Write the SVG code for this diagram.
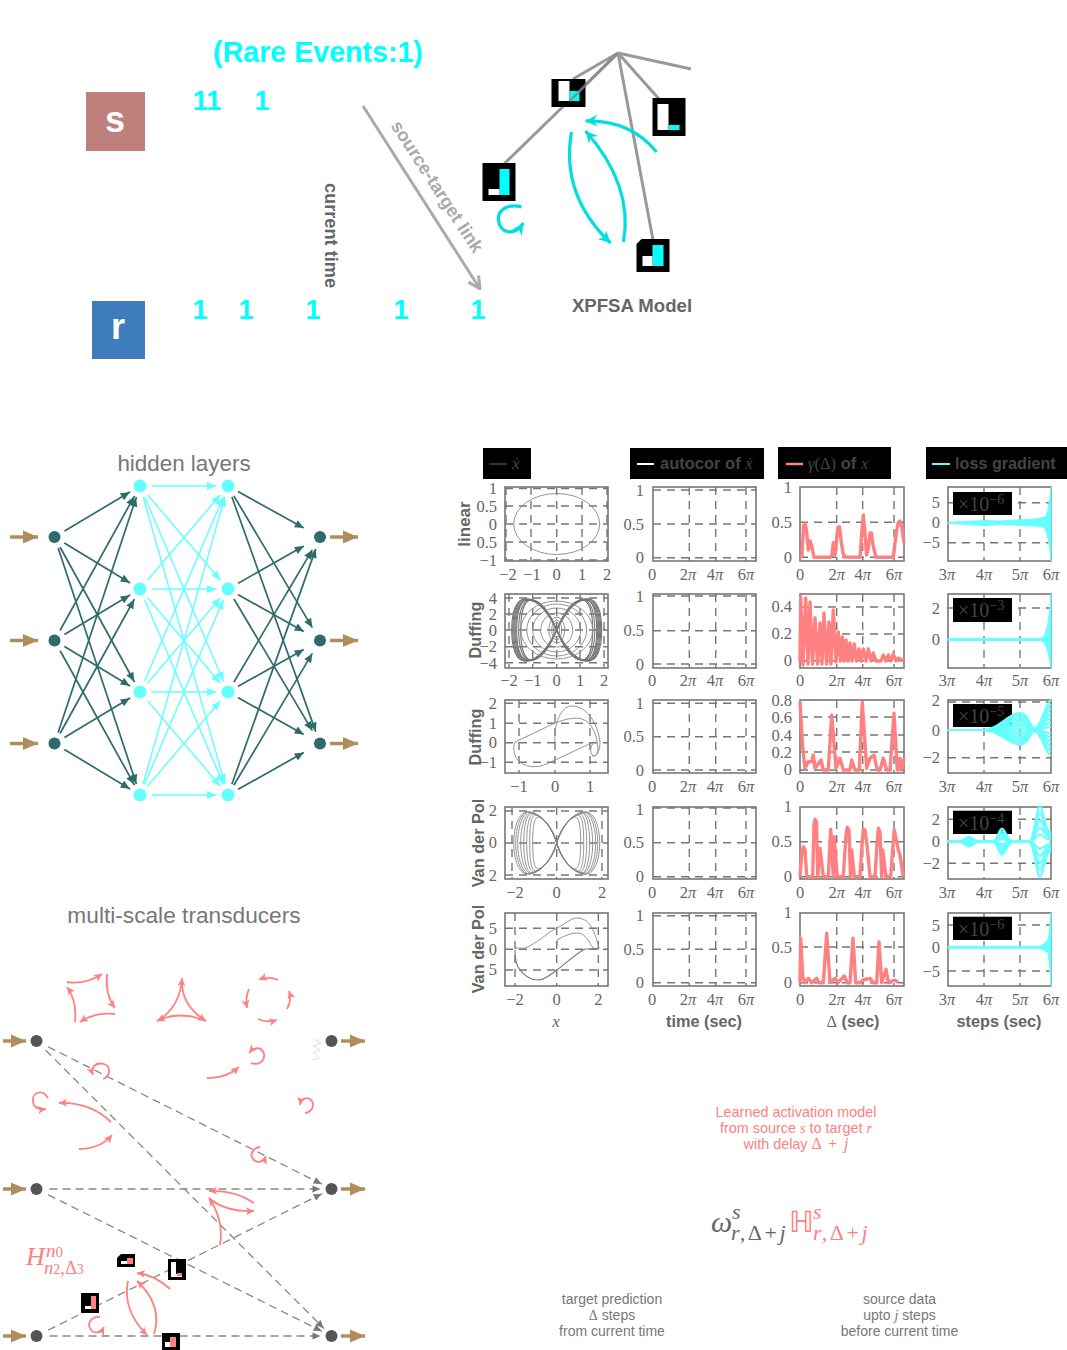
<svg xmlns="http://www.w3.org/2000/svg" width="1067" height="1350" viewBox="0 0 1067 1350">
<style>
text{font-family:"Liberation Sans",Arial,sans-serif}
.b{font-weight:bold}
.c1{fill:#00ffff;font-weight:bold;font-size:27px;text-anchor:middle}
.m{text-anchor:middle}
.gt{fill:#777}
.pt{fill:#ff8080}
.lab{fill:#666;font-weight:bold;font-size:16.3px;text-anchor:middle}
.i{font-family:"Liberation Serif",serif;font-style:italic;font-weight:normal}
.t text,.t{font-family:"Liberation Serif",serif;font-size:16.5px;fill:#666}
.tx text{text-anchor:middle}
.ty text{text-anchor:end}
.frame{fill:none;stroke:#777;stroke-width:1.6}
.grid{fill:none;stroke:#777;stroke-width:1.4;stroke-dasharray:8 6}
.tr{fill:none;stroke:#888;stroke-width:.9;vector-effect:non-scaling-stroke}
.tk{fill:none;stroke:#777;stroke-width:1.1;vector-effect:non-scaling-stroke}
.rc{fill:none;stroke:#ff8080;stroke-width:3.4;stroke-linejoin:round}
.cy{fill:#66ffff;stroke:#66ffff;stroke-width:1}
.cl{fill:none;stroke:#66ffff;stroke-width:2.2;vector-effect:non-scaling-stroke}
.bk{fill:#000}
.wt{fill:#fff}
.cn{fill:#00ffff}
.pk{fill:#ff8080}
.mgl{fill:#444;font-family:"Liberation Serif",serif;font-size:20px}
.dk line{stroke:#2f6b6b;stroke-width:1.7;marker-end:url(#ad)}
.dr line{stroke:#2f6b6b;stroke-width:1.7;marker-end:url(#ad0)}
.lc line{stroke:#66ffff;stroke-width:1.5;marker-end:url(#ac)}
.br{stroke:#b08d5a;stroke-width:3.5;marker-end:url(#ab)}
.ds line{stroke:#888;stroke-width:1.3;stroke-dasharray:8 5;marker-end:url(#ag)}
.halo{fill:#fff}
.rr{fill:none;stroke:#ff8080;stroke-width:1.8;marker-end:url(#ar)}
.ca{fill:none;stroke:#00dede;stroke-width:3.2;marker-end:url(#acy)}
.ml{stroke:#999;stroke-width:3;fill:none}
</style>
<defs>
<marker id="ad" markerUnits="userSpaceOnUse" viewBox="-10 -6 30 12" markerWidth="30" markerHeight="12" refX="12" refY="0" orient="auto"><path d="M-9,-4L0,0L-9,4Z" fill="#2f6b6b"/></marker>
<marker id="ad0" markerUnits="userSpaceOnUse" viewBox="-10 -6 11 12" markerWidth="11" markerHeight="12" refX="0" refY="0" orient="auto"><path d="M-9,-4L0,0L-9,4Z" fill="#2f6b6b"/></marker>
<marker id="ac" markerUnits="userSpaceOnUse" viewBox="-10 -6 30 12" markerWidth="30" markerHeight="12" refX="12" refY="0" orient="auto"><path d="M-9,-4L0,0L-9,4Z" fill="#66ffff"/></marker>
<marker id="ag" markerUnits="userSpaceOnUse" viewBox="-10 -6 30 12" markerWidth="30" markerHeight="12" refX="11" refY="0" orient="auto"><path d="M-8,-3.5L0,0L-8,3.5Z" fill="#777"/></marker>
<marker id="ab" markerUnits="userSpaceOnUse" viewBox="-16 -7 17 14" markerWidth="17" markerHeight="14" refX="0" refY="0" orient="auto"><path d="M-15,-6.5L0,0L-15,6.5Z" fill="#b08d5a"/></marker>
<marker id="ar" markerUnits="userSpaceOnUse" viewBox="-10 -6 11 12" markerWidth="11" markerHeight="12" refX="0" refY="0" orient="auto"><path d="M-8,-4L0,0L-8,4L-6,0Z" fill="#ff8080"/></marker>
<marker id="acy" markerUnits="userSpaceOnUse" viewBox="-14 -7 15 14" markerWidth="15" markerHeight="14" refX="0" refY="0" orient="auto"><path d="M-12,-6L0,0L-12,6L-8,0Z" fill="#00dede"/></marker>
<marker id="agl" markerUnits="userSpaceOnUse" viewBox="-14 -8 15 16" markerWidth="15" markerHeight="16" refX="0" refY="0" orient="auto"><path d="M-12,-6L0,0L-12,6" fill="none" stroke="#aaa" stroke-width="3"/></marker>
<path id="eight" class="tk" d="M0,0C.25,-.75 .5,-1 .7,-1C.9,-1 1,-.6 1,0C1,.6 .9,1 .7,1C.5,1 .25,.75 0,0C-.25,-.75 -.5,-1 -.7,-1C-.9,-1 -1,-.6 -1,0C-1,.6 -.9,1 -.7,1C-.5,1 -.25,.75 0,0Z"/>
<g id="vdp" class="tr">
<path d="M0,0C5,-15 12,-24 18,-26C23,-26 24,-14 24,0C24,14 23,26 18,26C12,24 5,15 0,0Z"/>
<path d="M0,0C5,-16 14,-26 21,-28C26,-28 27,-15 27,0C27,15 26,28 21,28C14,26 5,16 0,0Z"/>
<path d="M0,0C5,-17 15,-27 23,-29C28,-29 30,-15 30,0C30,15 28,29 23,29C15,27 5,17 0,0Z"/>
<path d="M0,0C5,-18 16,-28 25,-30C30,-30 33,-16 33,0C33,16 30,30 25,30C16,28 5,18 0,0Z"/>
<path d="M0,0C5,-18 17,-29 26,-30C32,-30 36,-16 36,0C36,16 32,30 26,30C17,29 5,18 0,0Z"/>
<path d="M0,0C5,-19 18,-30 27,-31C34,-31 39,-16 39,0C39,16 34,31 27,31C18,30 5,19 0,0Z"/>
<path d="M0,0C5,-19 18,-30 28,-31C36,-31 41,-16 41,0C41,16 36,31 28,31C18,30 5,19 0,0Z"/>
<path d="M0,0C5,-19 18,-31 29,-31C38,-31 43,-16 43,0C43,16 38,31 29,31C18,31 5,19 0,0Z"/>
</g>
<path id="w3" class="cl" d="M947.7,0L985,0C1000,-1 1008,-17 1020,-17C1030,-17 1030,2 1036,-2C1042,-6 1046,-28 1051,-30"/>
<path id="w4" class="cl" d="M947.7,0L958,0C964,0 966,-5 969,-5C972,-5 974,0 980,0L993,0C997,0 999,-13 1002,-13C1005,-13 1008,0 1012,0L1030,0C1034,-3 1037,-36 1040,-36C1043,-36 1045,-8 1051,-10"/>
</defs>

<g id="title"><text x="318" y="62" class="b m" font-size="28.6" fill="#00ffff">(Rare Events:1)</text></g>
<g id="node-s"><rect x="86" y="92" width="59" height="59" fill="#be7f7d"/><text x="115" y="132" class="b m" font-size="36" fill="#fff">s</text></g>
<g id="node-r"><rect x="92" y="301" width="53" height="58" fill="#3f7dbd"/><text x="118" y="339" class="b m" font-size="36" fill="#fff">r</text></g>
<g id="spikes">
<text x="207" y="110" class="c1">11</text><text x="262" y="110" class="c1">1</text>
<text x="200" y="319" class="c1">1</text><text x="246" y="319" class="c1">1</text><text x="313" y="319" class="c1">1</text><text x="401" y="319" class="c1">1</text><text x="478" y="319" class="c1">1</text>
</g>
<text transform="translate(325,235.5) rotate(90)" class="b m" font-size="18.2" fill="#666">current time</text>
<path id="source-target-arrow" d="M363,106L480,289" fill="none" stroke="#aaa" stroke-width="3" marker-end="url(#agl)"/>
<text transform="translate(432,190) rotate(57)" class="b m" font-size="18.3" fill="#aaa">source-target link</text>

<g id="xpfsa-lines">
<path class="ml" d="M618,53L691,69M618,53L573,79M618,53L504,164M618,53L659,99M618,53L653,240"/>
</g>
<g transform="translate(-1.5,0)">
<g id="xpfsa-1"><rect class="bk" x="553" y="79" width="34" height="28"/><rect class="wt" x="560" y="81" width="11" height="20"/><rect class="cn" x="571" y="91" width="10" height="10"/><path d="M619.5,53L571,101" stroke="#888" stroke-width="3" opacity=".75"/></g>
<g id="xpfsa-2"><rect class="bk" x="654" y="98" width="33" height="38"/><rect class="wt" x="659" y="104" width="11" height="26"/><rect class="cn" x="670" y="125" width="11" height="5"/></g>
<g id="xpfsa-3"><rect class="bk" x="484" y="163" width="33" height="38"/><rect class="cn" x="501" y="169" width="10" height="26"/><rect class="wt" x="490" y="189" width="11" height="6"/></g>
<g id="xpfsa-4"><path class="bk" d="M643,239H671V272H638V244Z"/><rect class="cn" x="654" y="245" width="11" height="21"/><rect class="wt" x="644" y="256" width="10" height="10"/></g>
<g id="xpfsa-arrows">
<path class="ca" d="M658,152Q632,120 587,121"/>
<path class="ca" d="M573,132Q562,195 612,243"/>
<path class="ca" d="M625,242Q635,185 587,131"/>
<path class="ca" d="M523,207C510,203 499,210 500,220C501,232 515,238 525,223"/>
</g>
</g>
<text x="632" y="312" class="b m" font-size="18.6" fill="#666">XPFSA Model</text>

<text x="184" y="471" class="m gt" font-size="22.4">hidden layers</text>
<g id="nn-connectors">
<g class="dk">
<line x1="54.5" y1="537" x2="140" y2="486"/><line x1="54.5" y1="537" x2="140" y2="589"/><line x1="54.5" y1="537" x2="140" y2="692"/><line x1="54.5" y1="537" x2="140" y2="795"/>
<line x1="54.5" y1="640.5" x2="140" y2="486"/><line x1="54.5" y1="640.5" x2="140" y2="589"/><line x1="54.5" y1="640.5" x2="140" y2="692"/><line x1="54.5" y1="640.5" x2="140" y2="795"/>
<line x1="54.5" y1="743.5" x2="140" y2="486"/><line x1="54.5" y1="743.5" x2="140" y2="589"/><line x1="54.5" y1="743.5" x2="140" y2="692"/><line x1="54.5" y1="743.5" x2="140" y2="795"/>
</g>
<g class="dr">
<line x1="228" y1="486" x2="303.8" y2="528"/><line x1="228" y1="486" x2="312.3" y2="627.6"/><line x1="228" y1="486" x2="315.8" y2="731.6"/>
<line x1="228" y1="589" x2="303.8" y2="546"/><line x1="228" y1="589" x2="303.8" y2="631.5"/><line x1="228" y1="589" x2="312.3" y2="730.6"/>
<line x1="228" y1="692" x2="312.3" y2="549.9"/><line x1="228" y1="692" x2="303.8" y2="649.5"/><line x1="228" y1="692" x2="303.8" y2="734.5"/>
<line x1="228" y1="795" x2="315.8" y2="548.9"/><line x1="228" y1="795" x2="312.3" y2="653.4"/><line x1="228" y1="795" x2="303.8" y2="752.5"/>
</g>
<g class="lc">
<line x1="140" y1="486" x2="228" y2="486"/><line x1="140" y1="486" x2="228" y2="589"/><line x1="140" y1="486" x2="228" y2="692"/><line x1="140" y1="486" x2="228" y2="795"/>
<line x1="140" y1="589" x2="228" y2="486"/><line x1="140" y1="589" x2="228" y2="589"/><line x1="140" y1="589" x2="228" y2="692"/><line x1="140" y1="589" x2="228" y2="795"/>
<line x1="140" y1="692" x2="228" y2="486"/><line x1="140" y1="692" x2="228" y2="589"/><line x1="140" y1="692" x2="228" y2="692"/><line x1="140" y1="692" x2="228" y2="795"/>
<line x1="140" y1="795" x2="228" y2="486"/><line x1="140" y1="795" x2="228" y2="589"/><line x1="140" y1="795" x2="228" y2="692"/><line x1="140" y1="795" x2="228" y2="795"/>
</g>
</g>
<g id="nn-nodes">
<g id="in1"><circle class="halo" cx="54.5" cy="537" r="11.5"/><circle cx="54.5" cy="537" r="6" fill="#2f6b6b"/></g>
<g id="in2"><circle class="halo" cx="54.5" cy="640.5" r="11.5"/><circle cx="54.5" cy="640.5" r="6" fill="#2f6b6b"/></g>
<g id="in3"><circle class="halo" cx="54.5" cy="743.5" r="11.5"/><circle cx="54.5" cy="743.5" r="6" fill="#2f6b6b"/></g>
<g id="h11"><circle class="halo" cx="140" cy="486" r="11.5"/><circle cx="140" cy="486" r="6.5" fill="#66ffff"/></g>
<g id="h12"><circle class="halo" cx="140" cy="589" r="11.5"/><circle cx="140" cy="589" r="6.5" fill="#66ffff"/></g>
<g id="h13"><circle class="halo" cx="140" cy="692" r="11.5"/><circle cx="140" cy="692" r="6.5" fill="#66ffff"/></g>
<g id="h14"><circle class="halo" cx="140" cy="795" r="11.5"/><circle cx="140" cy="795" r="6.5" fill="#66ffff"/></g>
<g id="h21"><circle class="halo" cx="228" cy="486" r="11.5"/><circle cx="228" cy="486" r="6.5" fill="#66ffff"/></g>
<g id="h22"><circle class="halo" cx="228" cy="589" r="11.5"/><circle cx="228" cy="589" r="6.5" fill="#66ffff"/></g>
<g id="h23"><circle class="halo" cx="228" cy="692" r="11.5"/><circle cx="228" cy="692" r="6.5" fill="#66ffff"/></g>
<g id="h24"><circle class="halo" cx="228" cy="795" r="11.5"/><circle cx="228" cy="795" r="6.5" fill="#66ffff"/></g>
<g id="out1"><circle cx="320" cy="537" r="6" fill="#2f6b6b"/></g>
<g id="out2"><circle cx="320" cy="640.5" r="6" fill="#2f6b6b"/></g>
<g id="out3"><circle cx="320" cy="743.5" r="6" fill="#2f6b6b"/></g>
</g>
<g id="nn-io">
<line class="br" x1="10" y1="537" x2="38" y2="537"/><line class="br" x1="10" y1="640.5" x2="38" y2="640.5"/><line class="br" x1="10" y1="743.5" x2="38" y2="743.5"/>
<line class="br" x1="330" y1="537" x2="358" y2="537"/><line class="br" x1="330" y1="640.5" x2="358" y2="640.5"/><line class="br" x1="330" y1="743.5" x2="358" y2="743.5"/>
</g>

<text x="184" y="923" class="m gt" font-size="22.7">multi-scale transducers</text>
<g id="ms-connectors" class="ds">
<line x1="36.5" y1="1041" x2="331.5" y2="1189"/><line x1="36.5" y1="1041" x2="331.5" y2="1336"/>
<line x1="36.5" y1="1189" x2="331.5" y2="1189"/><line x1="36.5" y1="1189" x2="331.5" y2="1336"/>
<line x1="36.5" y1="1336" x2="331.5" y2="1189"/><line x1="36.5" y1="1336" x2="331.5" y2="1336"/>
</g>
<path id="faint-arrows" d="M314,1039L321,1043L313,1046M313,1045L320,1050L313,1053M314,1052L319,1058L313,1060" fill="none" stroke="#ddd" stroke-width="1"/>
<g id="ms-nodes">
<g id="ma1"><circle class="halo" cx="36.5" cy="1041" r="10.5"/><circle cx="36.5" cy="1041" r="6" fill="#555"/></g>
<g id="ma2"><circle class="halo" cx="36.5" cy="1189" r="10.5"/><circle cx="36.5" cy="1189" r="6" fill="#555"/></g>
<g id="ma3"><circle class="halo" cx="36.5" cy="1336" r="10.5"/><circle cx="36.5" cy="1336" r="6" fill="#555"/></g>
<g id="mb1"><circle cx="331.5" cy="1041" r="6" fill="#555"/></g>
<g id="mb2"><circle class="halo" cx="331.5" cy="1189" r="10.5"/><circle cx="331.5" cy="1189" r="6" fill="#555"/></g>
<g id="mb3"><circle class="halo" cx="331.5" cy="1336" r="10.5"/><circle cx="331.5" cy="1336" r="6" fill="#555"/></g>
</g>
<g id="ms-io">
<line class="br" x1="3" y1="1041" x2="26" y2="1041"/><line class="br" x1="3" y1="1189" x2="26" y2="1189"/><line class="br" x1="3" y1="1336" x2="26" y2="1336"/>
<line class="br" x1="341" y1="1041" x2="365" y2="1041"/><line class="br" x1="341" y1="1189" x2="365" y2="1189"/><line class="br" x1="341" y1="1336" x2="365" y2="1336"/>
</g>
<g id="ms-curves">
<path class="rr" d="M67,982Q85,985 102,974"/><path class="rr" d="M107,974Q105,995 115,1008"/><path class="rr" d="M115,1014Q95,1012 80,1022"/><path class="rr" d="M75,1022Q77,1000 67,987"/>
<path class="rr" d="M206,1021Q180,1010 157,1021"/><path class="rr" d="M157,1021Q180,1008 182,978"/><path class="rr" d="M182,978Q180,1005 206,1021"/>
<path class="rr" d="M278,980Q269,976 259,979.5"/><path class="rr" d="M287,1009Q292,1000 289,991"/><path class="rr" d="M258,1019Q267,1023 277,1020"/><path class="rr" d="M249,989Q245,998 247,1008"/>
<path class="rr" d="M103,1079C111,1076 111,1066 104,1064C96,1062 90,1067 93,1075"/>
<path class="rr" d="M251,1063C260,1066 265,1060 264,1054C262,1047 255,1046 249,1053"/>
<path class="rr" d="M207,1078Q225,1079 239,1067"/>
<path class="rr" d="M48,1098C42,1088 32,1093 33,1101C33,1107 38,1110 46,1109"/>
<path class="rr" d="M111,1122Q90,1102 59,1103"/>
<path class="rr" d="M79,1149Q100,1149 112,1135"/>
<path class="rr" d="M305,1113C313,1112 315,1104 311,1100C307,1096 301,1099 300,1105"/>
<path class="rr" d="M260,1147C252,1148 249,1156 254,1160C259,1164 264,1161 266,1156"/>
<path class="rr" d="M254,1203Q235,1190 209,1191"/>
<path class="rr" d="M209,1198Q225,1212 254,1211"/>
<path class="rr" d="M220,1245Q224,1220 209,1198"/>
<path class="rr" d="M170,1289Q155,1275 137,1273"/>
<path class="rr" d="M128,1281Q122,1310 147,1335"/>
<path class="rr" d="M154,1334Q163,1305 137,1281"/>
<path class="rr" d="M100,1317C92,1316 87,1323 90,1328C93,1335 101,1333 104,1327"/>
</g>
<g id="m1"><path class="bk" d="M121,1254H135V1267H117V1258Z"/><rect class="pk" x="127" y="1258" width="6" height="6"/><rect class="wt" x="121" y="1261" width="6" height="3"/></g>
<g id="m2"><rect class="bk" x="168" y="1259" width="18" height="21"/><rect class="wt" x="171" y="1262" width="5" height="15"/><rect class="wt" x="176" y="1274" width="6" height="3"/><rect class="pk" x="177" y="1273" width="5" height="3"/></g>
<g id="m3"><rect class="bk" x="81" y="1293" width="18" height="20"/><rect class="pk" x="91" y="1296" width="5" height="13"/><rect class="wt" x="85" y="1306" width="6" height="3"/></g>
<g id="m4"><rect class="bk" x="162" y="1333" width="18" height="17"/><rect class="pk" x="170" y="1337" width="6" height="10"/><rect class="wt" x="165" y="1342" width="5" height="5"/></g>
<g id="h-label">
<text x="26" y="1265" font-size="26" class="i pt">H</text>
<text x="46" y="1257" font-size="19" class="i pt">n<tspan font-size="15" font-style="normal">0</tspan></text>
<text x="44" y="1274" font-size="18.5" class="i pt">n<tspan font-size="14" font-style="normal">2</tspan>,<tspan font-style="normal">Δ</tspan><tspan font-size="14" font-style="normal">3</tspan></text>
</g>

<g id="legend">
<rect class="bk" x="483" y="448" width="48" height="31"/><line x1="489" y1="464" x2="507" y2="464" stroke="#444" stroke-width="1.5"/><text x="512" y="469" class="i" font-size="17" fill="#444">ẋ</text>
<rect class="bk" x="630" y="448" width="134" height="31"/><line x1="637" y1="464" x2="654" y2="464" stroke="#fff" stroke-width="2"/><text x="660" y="469" class="b" font-size="16.5" fill="#444">autocor of <tspan class="i">ẋ</tspan></text>
<rect class="bk" x="778" y="447" width="113" height="32"/><line x1="786" y1="464" x2="803" y2="464" stroke="#ff8080" stroke-width="2.5"/><text x="808" y="469" class="b" font-size="16.5" fill="#444"><tspan class="i">γ</tspan><tspan font-weight="normal" font-family="Liberation Serif">(Δ)</tspan> of <tspan class="i">x</tspan></text>
<rect class="bk" x="926" y="447" width="141" height="32"/><line x1="932" y1="464" x2="950" y2="464" stroke="#66ffff" stroke-width="2"/><text x="955" y="469" class="b" font-size="16.2" fill="#444">loss gradient</text>
</g>
<g id="row-labels">
<text transform="translate(470,524) rotate(-90)" class="lab" style="font-size:17px">linear</text>
<text transform="translate(481,630) rotate(-90)" class="lab">Duffing</text>
<text transform="translate(481,737) rotate(-90)" class="lab">Duffing</text>
<text transform="translate(484,843) rotate(-90)" class="lab">Van der Pol</text>
<text transform="translate(484,949) rotate(-90)" class="lab">Van der Pol</text>
</g>

<g id="col1">
<g id="p11"><path class="grid" d="M506,487V561M531,487V561M556.7,487V561M582,487V561M607,487V561M505,488.5H608M505,506H608M505,524H608M505,542H608M505,560H608"/><rect class="frame" x="505" y="487" width="103" height="74"/><ellipse class="tr" cx="556.7" cy="524" rx="43" ry="30.5"/>
<g class="t ty"><text x="497" y="494">1</text><text x="497" y="512">0.5</text><text x="497" y="530">0</text><text x="497" y="548">0.5</text><text x="497" y="566">−1</text></g>
<g class="t tx"><text x="508" y="580">−2</text><text x="532" y="580">−1</text><text x="556.7" y="580">0</text><text x="582" y="580">1</text><text x="607" y="580">2</text></g></g>
<g id="p12"><path class="grid" d="M509,594V668M532.7,594V668M556.7,594V668M580,594V668M604,594V668M505,598H608M505,614H608M505,630H608M505,646.7H608M505,662.7H608"/><rect class="frame" x="505" y="594" width="103" height="74"/>
<use href="#eight" transform="translate(556.7,630) scale(45,31)"/><use href="#eight" transform="translate(556.7,630) scale(44,31)"/><use href="#eight" transform="translate(556.7,630) scale(43,31)"/><use href="#eight" transform="translate(556.7,630) scale(42,30)"/><use href="#eight" transform="translate(556.7,630) scale(41,30)"/><use href="#eight" transform="translate(556.7,630) scale(40,31)"/><use href="#eight" transform="translate(556.7,630) scale(38,30)"/><use href="#eight" transform="translate(556.7,630) scale(36,30)"/>
<ellipse class="tr" cx="556.7" cy="630" rx="36" ry="29"/><ellipse class="tr" cx="556.7" cy="630" rx="30" ry="26"/><ellipse class="tr" cx="556.7" cy="630" rx="24" ry="22"/><ellipse class="tr" cx="556.7" cy="630" rx="16" ry="17"/><ellipse class="tr" cx="556.7" cy="630" rx="8" ry="13"/><ellipse class="tr" cx="556.7" cy="630" rx="5" ry="10"/><ellipse class="tr" cx="556.7" cy="630" rx="3" ry="8"/>
<g class="t ty"><text x="497" y="604">4</text><text x="497" y="620">2</text><text x="497" y="636">0</text><text x="497" y="652">−2</text><text x="497" y="669">−4</text></g>
<g class="t tx"><text x="509" y="686">−2</text><text x="532.7" y="686">−1</text><text x="556.7" y="686">0</text><text x="580" y="686">1</text><text x="604" y="686">2</text></g></g>
<g id="p13"><path class="grid" d="M519,700V773M555,700V773M590,700V773M505,703.3H608M505,723.3H608M505,742.7H608M505,762.3H608"/><rect class="frame" x="505" y="700" width="103" height="73"/>
<path class="tr" d="M515,742L555,723C565,719 575,717 582,719C592,722 597,735 598,748C598,755 594,758 592,755C590,751 590,747 594,742"/><path class="tr" d="M555,742C554,725 560,706 572,706C585,706 597,720 600,742C600,752 596,758 592,755"/><path class="tr" d="M515,742C512,748 514,760 523,764C535,770 545,765 555,760L585,746C589,744 592,742 594,742"/>
<g class="t ty"><text x="497" y="709">2</text><text x="497" y="729">1</text><text x="497" y="748">0</text><text x="497" y="768">−1</text></g>
<g class="t tx"><text x="519" y="792">−1</text><text x="555" y="792">0</text><text x="590" y="792">1</text></g></g>
<g id="p14"><path class="grid" d="M512,807V879M556.7,807V879M602,807V879M505,811H608M505,843H608M505,875H608"/><rect class="frame" x="505" y="807" width="103" height="72"/>
<use href="#vdp" transform="translate(556.7,843)"/><use href="#vdp" transform="translate(556.7,843) scale(-1,1)"/>
<g class="t ty"><text x="497" y="816">2</text><text x="497" y="848">0</text><text x="497" y="881">2</text></g>
<g class="t tx"><text x="515" y="898">−2</text><text x="556.7" y="898">0</text><text x="602" y="898">2</text></g></g>
<g id="p15"><path class="grid" d="M515,913V986M556.7,913V986M598.3,913V986M505,928.3H608M505,949.3H608M505,970H608"/><rect class="frame" x="505" y="913" width="103" height="73"/>
<path class="tr" d="M515,948C520,948 524,949 528,947C535,943 545,936 550,932C553,930 555,929 557,928C565,924 571,918 577,918C585,918 590,923 593,930C596,936 598,943 599,948"/><path class="tr" d="M557,945V940C562,937 570,933 578,933C585,933 589,942 593,948L599,949"/><path class="tk" d="M515,950C515,958 516,963 518,967C523,975 530,980 538,980C545,980 551,974 557,970C566,963 577,953 585,949L599,949"/>
<g class="t ty"><text x="497" y="934">5</text><text x="497" y="955">0</text><text x="497" y="975">5</text></g>
<g class="t tx"><text x="515" y="1005">−2</text><text x="556.7" y="1005">0</text><text x="598.3" y="1005">2</text></g></g>
</g>

<g id="col2">
<g id="p21"><path class="grid" d="M689.3,487V561M715.7,487V561M746,487V561M653,490H756M653,524H756M653,557.7H756"/><rect class="frame" x="653" y="487" width="103" height="74"/>
<g class="t ty"><text x="644" y="496">1</text><text x="644" y="530">0.5</text><text x="644" y="563">0</text></g>
<g class="t tx"><text x="652" y="580">0</text><text x="688" y="580">2<tspan class="i">π</tspan></text><text x="715" y="580">4<tspan class="i">π</tspan></text><text x="746" y="580">6<tspan class="i">π</tspan></text></g></g>
<g id="p22"><path class="grid" d="M689.3,594V668M715.7,594V668M746,594V668M653,596H756M653,630.7H756M653,664H756"/><rect class="frame" x="653" y="594" width="103" height="74"/>
<g class="t ty"><text x="644" y="602">1</text><text x="644" y="636">0.5</text><text x="644" y="670">0</text></g>
<g class="t tx"><text x="652" y="686">0</text><text x="688" y="686">2<tspan class="i">π</tspan></text><text x="715" y="686">4<tspan class="i">π</tspan></text><text x="746" y="686">6<tspan class="i">π</tspan></text></g></g>
<g id="p23"><path class="grid" d="M689.3,700V773M715.7,700V773M746,700V773M653,703.3H756M653,736.7H756M653,770H756"/><rect class="frame" x="653" y="700" width="103" height="73"/>
<g class="t ty"><text x="644" y="709">1</text><text x="644" y="742">0.5</text><text x="644" y="776">0</text></g>
<g class="t tx"><text x="652" y="792">0</text><text x="688" y="792">2<tspan class="i">π</tspan></text><text x="715" y="792">4<tspan class="i">π</tspan></text><text x="746" y="792">6<tspan class="i">π</tspan></text></g></g>
<g id="p24"><path class="grid" d="M689.3,807V879M715.7,807V879M746,807V879M653,808H756M653,842.7H756M653,876.7H756"/><rect class="frame" x="653" y="807" width="103" height="72"/>
<g class="t ty"><text x="644" y="815">1</text><text x="644" y="848">0.5</text><text x="644" y="882">0</text></g>
<g class="t tx"><text x="652" y="898">0</text><text x="688" y="898">2<tspan class="i">π</tspan></text><text x="715" y="898">4<tspan class="i">π</tspan></text><text x="746" y="898">6<tspan class="i">π</tspan></text></g></g>
<g id="p25"><path class="grid" d="M689.3,913V986M715.7,913V986M746,913V986M653,915.7H756M653,949.3H756M653,982.7H756"/><rect class="frame" x="653" y="913" width="103" height="73"/>
<g class="t ty"><text x="644" y="921">1</text><text x="644" y="955">0.5</text><text x="644" y="988">0</text></g>
<g class="t tx"><text x="652" y="1005">0</text><text x="688" y="1005">2<tspan class="i">π</tspan></text><text x="715" y="1005">4<tspan class="i">π</tspan></text><text x="746" y="1005">6<tspan class="i">π</tspan></text></g></g>
</g>

<g id="col3">
<g id="p31"><path class="grid" d="M836.7,487V561M862.7,487V561M894,487V561M800,522.3H904M800,557.3H904"/><rect class="frame" x="800" y="487" width="104" height="74"/>
<polyline class="rc" points="800,557.3 802,556 803.5,526 805,523 806.5,530 808.3,550 810,541 811.5,545 814,557.3 830,557.3 832,555 833.3,542.7 835,555 836.5,540 838,527 839.5,527 841,540 843,553 845,557 860,557.3 862,530 863.3,515 864.7,530 866.5,555 868,550 870,533 871.5,533 873,545 876,557.3 893.3,557.3 896,535 898,523 900,521 902,528 904,543"/>
<g class="t ty"><text x="792" y="493">1</text><text x="792" y="528">0.5</text><text x="792" y="563">0</text></g>
<g class="t tx"><text x="800" y="580">0</text><text x="836.7" y="580">2<tspan class="i">π</tspan></text><text x="862.7" y="580">4<tspan class="i">π</tspan></text><text x="894" y="580">6<tspan class="i">π</tspan></text></g></g>
<g id="p32"><path class="grid" d="M836.7,594V668M862.7,594V668M894,594V668M800,607H904M800,634H904M800,660.7H904"/><rect class="frame" x="800" y="594" width="104" height="74"/>
<polyline class="rc" points="800,662 800.7,597 803,665 805.7,598 808,664 810,602 812.5,664 815,618 817.5,664 820,623 822,664 824,613 826.5,664 829,622 831,664 833.3,610 836,662 838.3,632 840.5,661 842.3,637 844,661 846,640 848,661 850,643 852,661 854.3,644 856.5,661 859,649 861,661 863.3,649 866,661 868.3,649 871,661 873.3,653 876,661 881,661 883.3,655 886,661 888.3,655 891,661 893.3,654 896,661 898.3,658 904,661"/>
<g class="t ty"><text x="792" y="612">0.4</text><text x="792" y="639">0.2</text><text x="792" y="666">0</text></g>
<g class="t tx"><text x="800" y="686">0</text><text x="836.7" y="686">2<tspan class="i">π</tspan></text><text x="862.7" y="686">4<tspan class="i">π</tspan></text><text x="894" y="686">6<tspan class="i">π</tspan></text></g></g>
<g id="p33"><path class="grid" d="M836.7,700V773M862.7,700V773M894,700V773M800,717H904M800,735H904M800,752H904M800,770H904"/><rect class="frame" x="800" y="700" width="104" height="73"/>
<polyline class="rc" points="800,701.7 802.7,746.7 805,768.3 808.3,761.7 811.7,761.7 813.3,755 815,768.3 821,760 823.3,770 828.3,770 831.7,715 836,768.3 840,758.3 843.3,770 850,770 851.7,760 855,770 859.3,770 862.3,702.7 866.7,768.3 870,758.3 874,755 877.3,770 880,770 883.3,758.3 886.7,770 890,770 894,713.3 897.3,770 900,758.3 901.7,770 904,758.3"/>
<g class="t ty"><text x="792" y="706">0.8</text><text x="792" y="723">0.6</text><text x="792" y="741">0.4</text><text x="792" y="758">0.2</text><text x="792" y="775">0</text></g>
<g class="t tx"><text x="800" y="792">0</text><text x="836.7" y="792">2<tspan class="i">π</tspan></text><text x="862.7" y="792">4<tspan class="i">π</tspan></text><text x="894" y="792">6<tspan class="i">π</tspan></text></g></g>
<g id="p34"><path class="grid" d="M836.7,807V879M862.7,807V879M894,807V879M800,841.7H904M800,876.7H904"/><rect class="frame" x="800" y="807" width="104" height="72"/>
<polyline class="rc" points="800,876.7 802,850 803.5,846.7 805,850 806.7,876.7 812.7,876.7 814,825 815,819.3 816.5,822 817.8,876.7 820,848.3 823.3,876.7 828.3,876.7 830.7,829.3 833.3,876.7 834,836.7 837.3,876.7 843.3,876.7 846,835 847.3,827.3 849,830 850.5,876.7 851.7,850 854.3,876.7 860,876.7 862,845 863.3,829.3 865,830 867,845 870,876.7 875,876.7 877,845 878.3,828.3 880,832 881.7,876.7 882.7,850 886,876.7 890.7,876.7 893,845 894.3,830 896,838 898.3,850 900,855 903.3,876.7"/>
<g class="t ty"><text x="792" y="812">1</text><text x="792" y="847">0.5</text><text x="792" y="882">0</text></g>
<g class="t tx"><text x="800" y="898">0</text><text x="836.7" y="898">2<tspan class="i">π</tspan></text><text x="862.7" y="898">4<tspan class="i">π</tspan></text><text x="894" y="898">6<tspan class="i">π</tspan></text></g></g>
<g id="p35"><path class="grid" d="M836.7,913V986M862.7,913V986M894,913V986M800,947H904M800,982.7H904"/><rect class="frame" x="800" y="913" width="104" height="73"/>
<polyline class="rc" points="800,982.7 800.7,938.3 802.7,976.7 805,982.7 808.3,978.3 811.7,982.7 816.7,978.3 819.3,982.7 823.3,982.7 826.7,933.3 830,982.7 835,978.3 838.3,982.7 844.3,976 847.3,982.7 850,982.7 853,938.3 855.7,982.7 860,982.7 863,980 870,978.3 873.3,982.7 876.7,982.7 879,941.7 881.7,982.7 886,969.3 888.3,982.7 895,980 898.3,982.7"/>
<g class="t ty"><text x="792" y="918">1</text><text x="792" y="953">0.5</text><text x="792" y="988">0</text></g>
<g class="t tx"><text x="800" y="1005">0</text><text x="836.7" y="1005">2<tspan class="i">π</tspan></text><text x="862.7" y="1005">4<tspan class="i">π</tspan></text><text x="894" y="1005">6<tspan class="i">π</tspan></text></g></g>
</g>

<g id="col4">
<g id="p41"><path class="grid" d="M984,487V561M1020,487V561M948,502.7H1051M948,542.7H1051"/><rect class="bk" x="953" y="492" width="59" height="23"/><rect class="frame" x="948" y="487" width="103" height="74"/>
<text class="mgl" x="958" y="511">×10<tspan font-size="14" dy="-7">−6</tspan></text>
<path class="cy" d="M948,522.3L985,520.5L1000,521L1035,519L1043,517.5C1047,516 1049,510 1051,487L1051,561C1049,540 1047,530 1043,527L1035,526L1000,524.5L985,525.5L948,523.3Z"/>
<g class="t ty"><text x="940" y="508">5</text><text x="940" y="528">0</text><text x="940" y="548">−5</text></g>
<g class="t tx"><text x="947" y="580">3<tspan class="i">π</tspan></text><text x="984" y="580">4<tspan class="i">π</tspan></text><text x="1020" y="580">5<tspan class="i">π</tspan></text><text x="1051" y="580">6<tspan class="i">π</tspan></text></g></g>
<g id="p42"><path class="grid" d="M984,594V668M1020,594V668M948,608H1051"/><rect class="bk" x="953" y="598" width="59" height="24"/><rect class="frame" x="948" y="594" width="103" height="74"/>
<text class="mgl" x="958" y="617">×10<tspan font-size="14" dy="-7">−3</tspan></text>
<path class="cy" d="M948,638.5L1040,638.5C1046,638 1049,625 1051,594L1051,668C1049,655 1046,641 1040,640.5L948,640.5Z"/>
<g class="t ty"><text x="940" y="614">2</text><text x="940" y="645">0</text></g>
<g class="t tx"><text x="947" y="686">3<tspan class="i">π</tspan></text><text x="984" y="686">4<tspan class="i">π</tspan></text><text x="1020" y="686">5<tspan class="i">π</tspan></text><text x="1051" y="686">6<tspan class="i">π</tspan></text></g></g>
<g id="p43"><path class="grid" d="M984,700V773M1020,700V773M948,702H1051M948,757.7H1051"/><rect class="bk" x="953" y="704" width="59" height="23"/><rect class="frame" x="948" y="700" width="103" height="73"/>
<text class="mgl" x="958" y="723">×10<tspan font-size="14" dy="-7">−5</tspan></text>
<use href="#w3" transform="translate(0,730) scale(1,1)"/><use href="#w3" transform="translate(0,730) scale(1,.85)"/><use href="#w3" transform="translate(0,730) scale(1,.7)"/><use href="#w3" transform="translate(0,730) scale(1,.55)"/><use href="#w3" transform="translate(0,730) scale(1,.4)"/><use href="#w3" transform="translate(0,730) scale(1,.25)"/><use href="#w3" transform="translate(0,730) scale(1,.1)"/><use href="#w3" transform="translate(0,730) scale(1,-.1)"/><use href="#w3" transform="translate(0,730) scale(1,-.25)"/><use href="#w3" transform="translate(0,730) scale(1,-.4)"/><use href="#w3" transform="translate(0,730) scale(1,-.55)"/><use href="#w3" transform="translate(0,730) scale(1,-.7)"/><use href="#w3" transform="translate(0,730) scale(1,-.85)"/>
<g class="t ty"><text x="940" y="706">2</text><text x="940" y="736">0</text><text x="940" y="763">−2</text></g>
<g class="t tx"><text x="947" y="792">3<tspan class="i">π</tspan></text><text x="984" y="792">4<tspan class="i">π</tspan></text><text x="1020" y="792">5<tspan class="i">π</tspan></text><text x="1051" y="792">6<tspan class="i">π</tspan></text></g></g>
<g id="p44"><path class="grid" d="M984,807V879M1020,807V879M948,819.3H1051M948,863.3H1051"/><rect class="bk" x="953" y="810.7" width="59" height="23.3"/><rect class="frame" x="948" y="807" width="103" height="72"/>
<text class="mgl" x="958" y="830">×10<tspan font-size="14" dy="-7">−4</tspan></text>
<use href="#w4" transform="translate(0,841.7) scale(1,1)"/><use href="#w4" transform="translate(0,841.7) scale(1,.8)"/><use href="#w4" transform="translate(0,841.7) scale(1,.6)"/><use href="#w4" transform="translate(0,841.7) scale(1,.4)"/><use href="#w4" transform="translate(0,841.7) scale(1,.2)"/><use href="#w4" transform="translate(0,841.7) scale(1,-.2)"/><use href="#w4" transform="translate(0,841.7) scale(1,-.4)"/><use href="#w4" transform="translate(0,841.7) scale(1,-.6)"/><use href="#w4" transform="translate(0,841.7) scale(1,-.8)"/><use href="#w4" transform="translate(0,841.7) scale(1,-1)"/>
<g class="t ty"><text x="940" y="825">2</text><text x="940" y="847">0</text><text x="940" y="869">−2</text></g>
<g class="t tx"><text x="947" y="898">3<tspan class="i">π</tspan></text><text x="984" y="898">4<tspan class="i">π</tspan></text><text x="1020" y="898">5<tspan class="i">π</tspan></text><text x="1051" y="898">6<tspan class="i">π</tspan></text></g></g>
<g id="p45"><path class="grid" d="M984,913V986M1020,913V986M948,925H1051M948,971H1051"/><rect class="bk" x="953" y="916.7" width="59" height="23.3"/><rect class="frame" x="948" y="913" width="103" height="73"/>
<text class="mgl" x="958" y="936">×10<tspan font-size="14" dy="-7">−6</tspan></text>
<path class="cy" d="M948,946.3L1040,946.3C1043,944 1046,943 1048,940C1049,935 1050,925 1051,913L1051,986C1050,970 1049,958 1048,953C1046,951 1043,950 1040,948.3L948,948.3Z"/>
<g class="t ty"><text x="940" y="931">5</text><text x="940" y="953">0</text><text x="940" y="977">−5</text></g>
<g class="t tx"><text x="947" y="1005">3<tspan class="i">π</tspan></text><text x="984" y="1005">4<tspan class="i">π</tspan></text><text x="1020" y="1005">5<tspan class="i">π</tspan></text><text x="1051" y="1005">6<tspan class="i">π</tspan></text></g></g>
</g>
<g id="axis-labels">
<text x="556" y="1027" class="i m" font-size="17" fill="#666">x</text>
<text x="704" y="1027" class="lab">time (sec)</text>
<text x="853" y="1027" class="lab"><tspan font-weight="normal" font-family="Liberation Serif">Δ</tspan> (sec)</text>
<text x="999" y="1027" class="lab">steps (sec)</text>
</g>

<g id="formula-caption" font-size="14.4">
<text x="796" y="1116.5" class="m pt">Learned activation model</text>
<text x="796" y="1133" class="m pt">from source <tspan class="i">s</tspan> to target <tspan class="i">r</tspan></text>
<text x="796" y="1149" class="m pt">with delay <tspan font-family="Liberation Serif" font-size="16" word-spacing="3">Δ + </tspan><tspan class="i" font-size="16">j</tspan></text>
</g>
<g id="formula">
<text x="711" y="1232" class="i" font-size="30" fill="#666">ω</text>
<text x="732" y="1219" class="i" font-size="22" fill="#666">s</text>
<text x="731" y="1240" class="i" font-size="22" letter-spacing="2.6" fill="#666">r,<tspan font-style="normal">Δ+</tspan>j</text>
<text x="789" y="1232" font-size="29" fill="#ff8080" style="font-family:'DejaVu Sans',sans-serif">ℍ</text>
<text x="813" y="1219" class="i" font-size="22" fill="#ff8080">s</text>
<text x="813" y="1240" class="i" font-size="22" letter-spacing="2.6" fill="#ff8080">r,<tspan font-style="normal">Δ+</tspan>j</text>
</g>
<g id="note-left" font-size="14">
<text x="612" y="1304" class="m gt">target prediction</text>
<text x="612" y="1320" class="m gt"><tspan font-family="Liberation Serif">Δ</tspan> steps</text>
<text x="612" y="1336" class="m gt">from current time</text>
</g>
<g id="note-right" font-size="14">
<text x="899.5" y="1304" class="m gt">source data</text>
<text x="899.5" y="1320" class="m gt">upto <tspan class="i">j</tspan> steps</text>
<text x="899.5" y="1336" class="m gt">before current time</text>
</g>
</svg>
